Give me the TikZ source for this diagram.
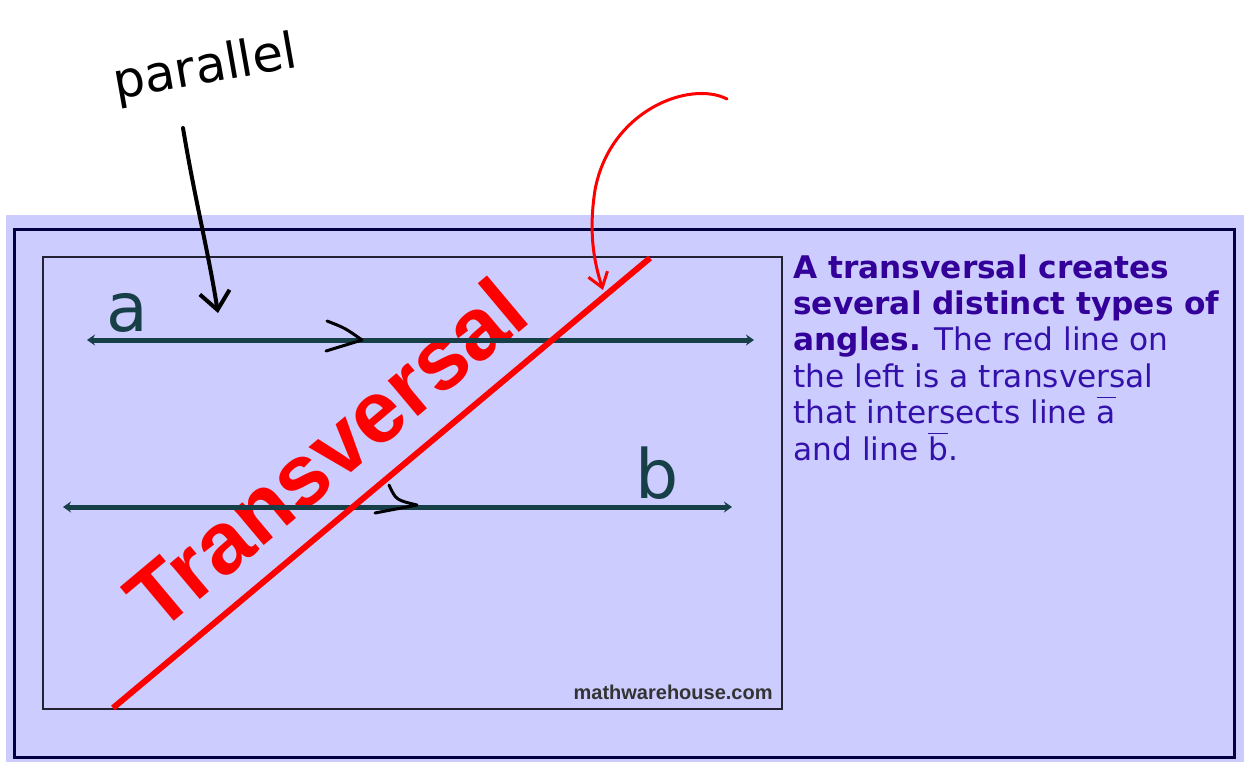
\documentclass[tikz,border=0pt]{standalone}
\usepackage{fontspec}
\setmainfont{DejaVu Sans}
\newfontfamily\arialfont{Liberation Sans}
\usetikzlibrary{arrows.meta, positioning, calc}
\definecolor{panelbg}{HTML}{CCCCFF}
\definecolor{framenavy}{HTML}{000040}
\definecolor{boxgrey}{HTML}{222233}
\definecolor{linegreen}{HTML}{173F48}
\definecolor{textbold}{HTML}{330099}
\definecolor{textplain}{HTML}{3311AA}
\definecolor{wmgrey}{HTML}{333333}
\newcommand{\boldpart}[1]{{\bfseries\color{textbold}#1}}
\newcommand{\lineover}[1]{\ensuremath{\overline{\vphantom{\mbox{b}}\mbox{#1}}}}
\tikzset{
  lbl/.style={font=\fontsize{34}{34}\selectfont, color=linegreen, inner sep=0pt},
  inkline/.style={line width=2pt, line cap=round, line join=round},
  chevron/.style={line width=1.5pt, line cap=round, line join=round}
}

\begin{document}
\begin{tikzpicture}[x=0.5pt, y=-0.5pt]
  \useasboundingbox (0,0) rectangle (1244,762);
  % lavender panel with frames
  \fill[panelbg] (6,215) rectangle (1244,762);
  \draw[framenavy, line width=1.5pt] (14,229) rectangle (1234,757);
  \draw[boxgrey, line width=0.7pt] (43,257) rectangle (782,709);
  \node[font=\arialfont\bfseries\fontsize{44}{44}\selectfont, color=red, rotate=40,
        anchor=base west, inner sep=0pt] (transversal) at (158,635) {Transversal};
  % parallel lines a and b
  \foreach \y/\xl/\xr in {340/87/754, 507/63/732}
    \draw[linegreen, line width=2.5pt, {Stealth[length=4pt,width=5.5pt]}-{Stealth[length=4pt,width=5.5pt]}]
      (\xl,\y) -- (\xr,\y);
  \node[lbl, anchor=base] (a) at (127,331) {a};
  \node[lbl, anchor=base] (b) at (657,498) {b};
  \draw[red, line width=3pt] (113,708) -- (650,258);
  \node[font=\arialfont\bfseries\fontsize{10}{10}\selectfont, color=wmgrey,
        anchor=base east, inner sep=0pt] (credit) at (773,699) {mathwarehouse.com};
  % text on the right
  \node[anchor=base west, align=left, inner sep=0pt, color=textplain,
        font=\fontsize{15.6}{18.2}\selectfont] (desc) at (793,460)
    {\boldpart{A transversal creates}\\
     \boldpart{several distinct types of}\\
     \boldpart{angles.} The red line on\\
     the left is a transversal\\
     that intersects line \lineover{a}\\
     and line \lineover{b}.};
  % hand marks
  \node[font=\fontsize{25}{25}\selectfont, rotate=10, anchor=base, inner sep=0pt] (parallel) at (208,83) {parallel};
  \coordinate (parallel tail) at (183,128);
  \coordinate (parallel tip) at (218,313);
  \draw[inkline, -{Straight Barb[length=9pt,width=15pt]}]
    (parallel tail) .. controls (195,200) and (208,250) .. (parallel tip);
  \coordinate (hook) at (727,99);
  \coordinate (cross tip) at (603,290);
  \draw[red, line width=1.5pt, line cap=round, -{Straight Barb[length=7pt,width=10pt]}]
    (hook) .. controls (690,80) and (610,110) .. (595,190)
    .. controls (588,235) and (595,265) .. (cross tip);
  \draw[chevron] (327,321) .. controls (345,328) .. (362,340) -- (326,351);
  \draw[chevron] (389,485) .. controls (396,500) .. (417,505) -- (375,513);
\end{tikzpicture}
\end{document}
